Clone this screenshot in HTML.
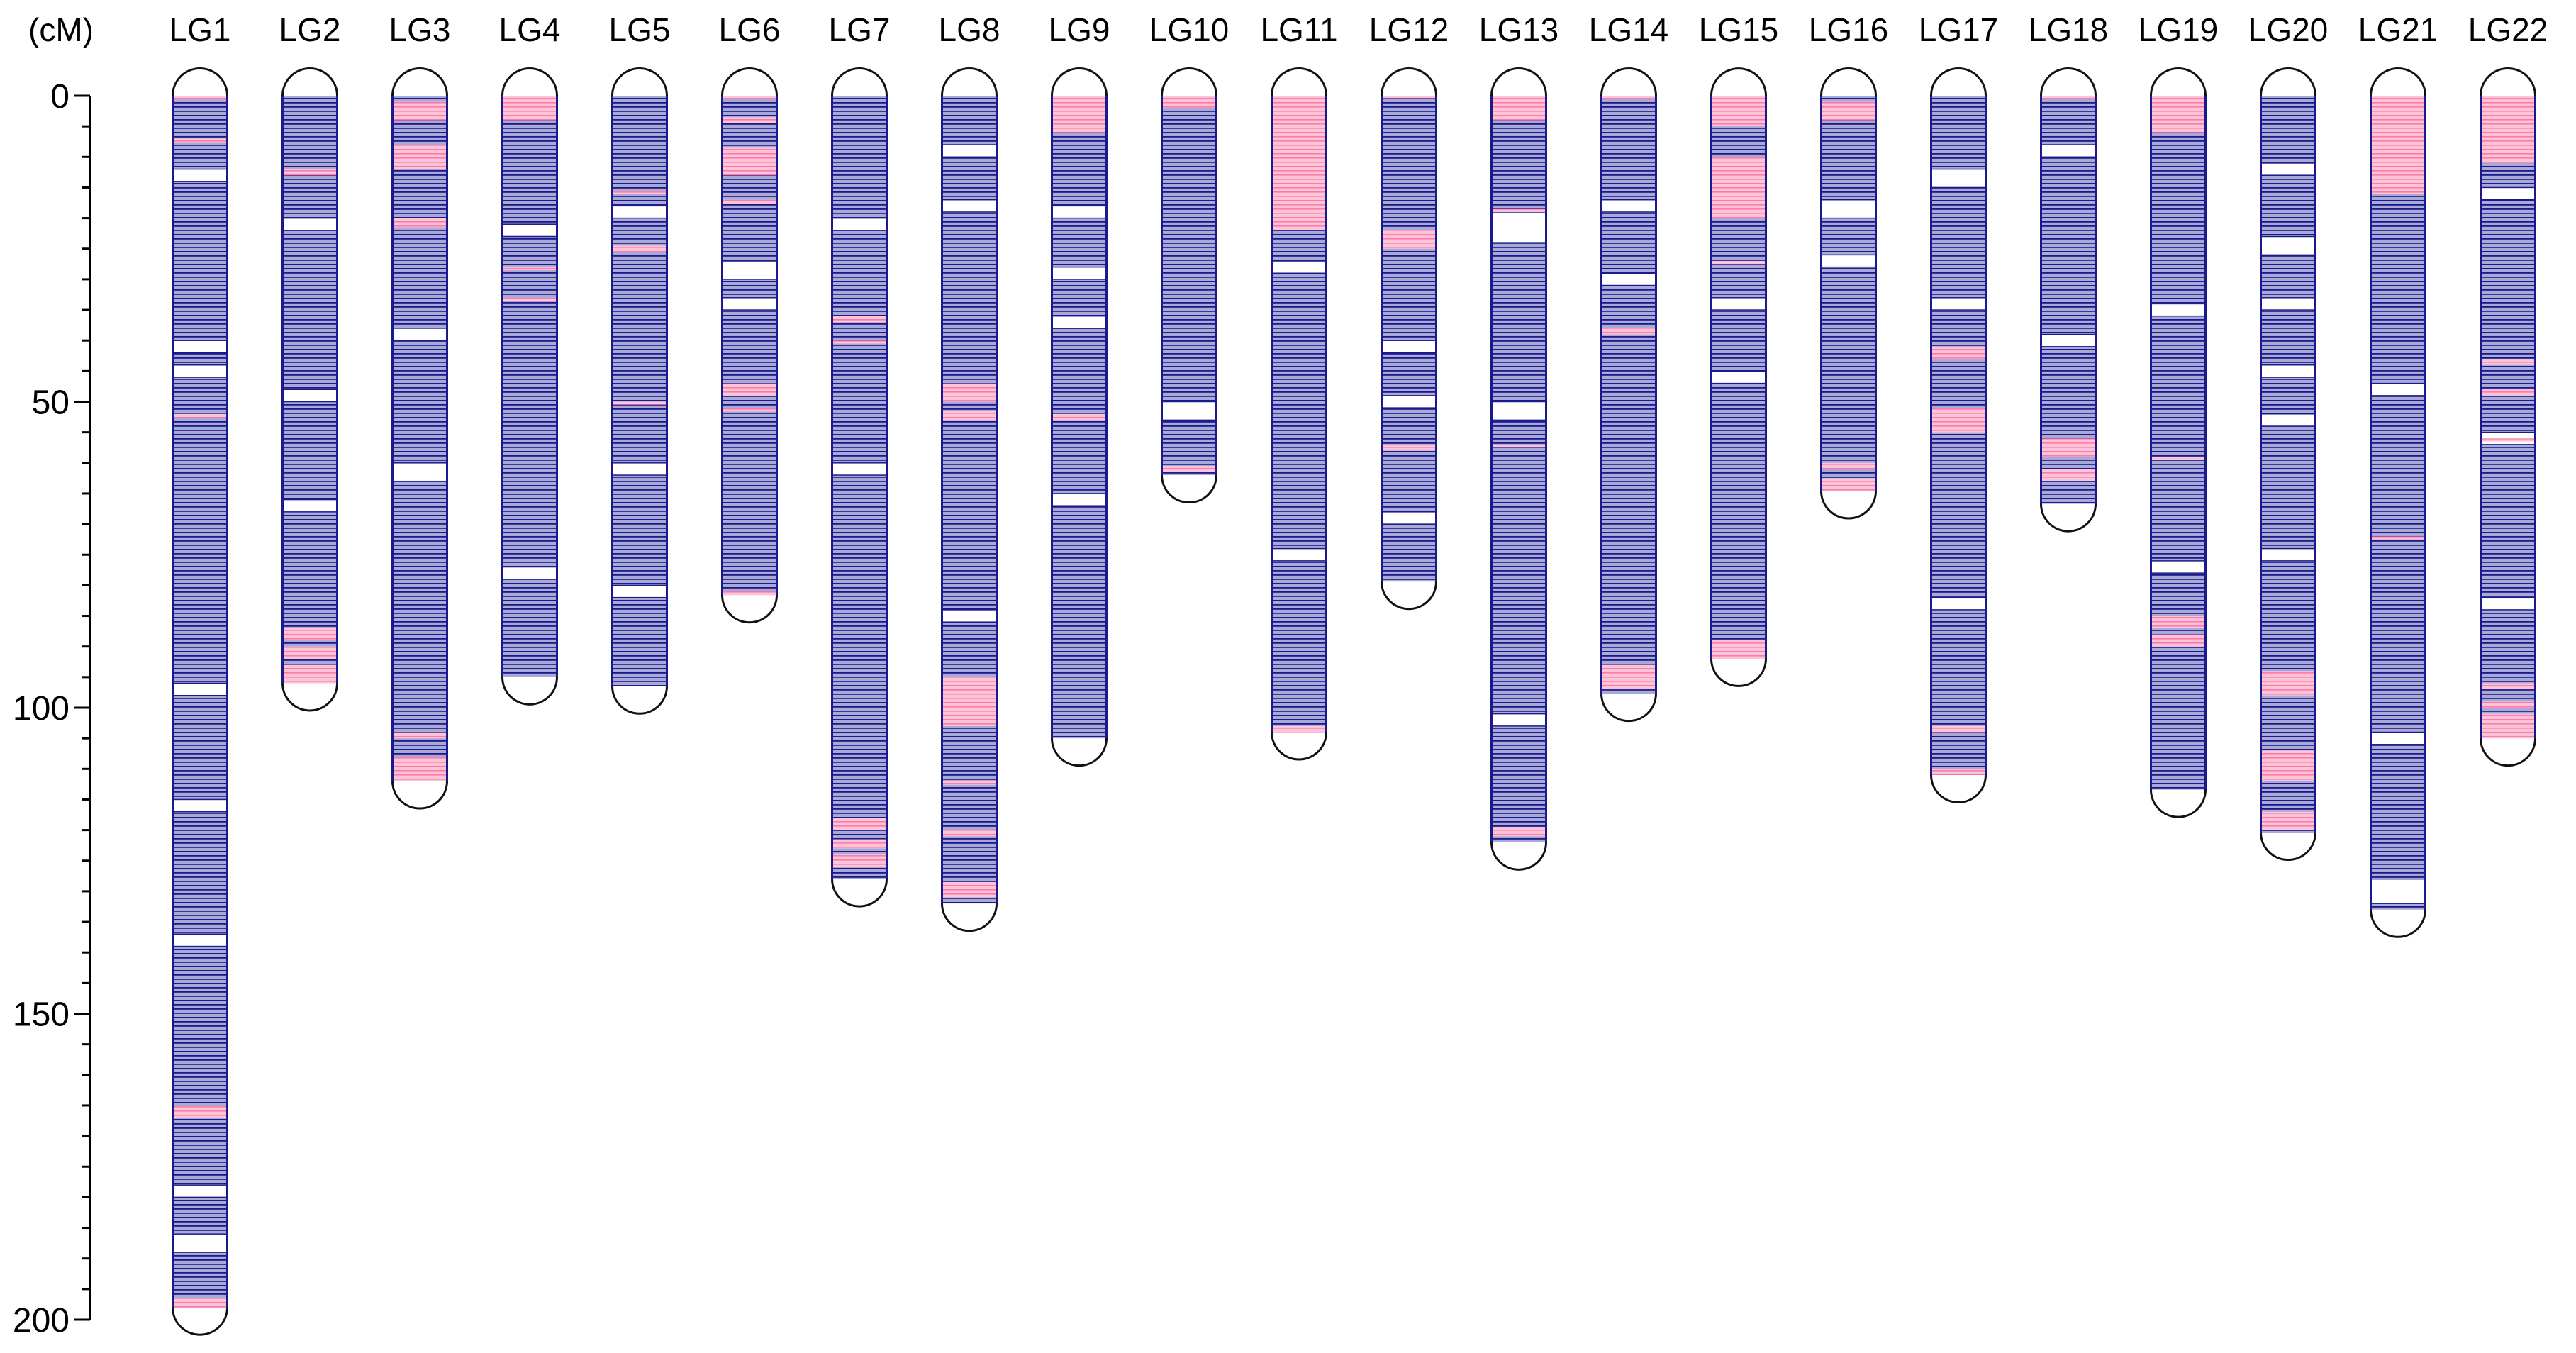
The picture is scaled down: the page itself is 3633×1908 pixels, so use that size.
<!DOCTYPE html>
<html><head><meta charset="utf-8"><style>
html,body{margin:0;padding:0;background:#fff;}
svg{display:block;}
text{font-family:"Liberation Sans",Arial,sans-serif;fill:#000;}
</style></head><body>
<svg id="chart" width="3633" height="1908" viewBox="0 0 3633 1908" xmlns="http://www.w3.org/2000/svg">
<defs>
<pattern id="stripes" patternUnits="userSpaceOnUse" width="80" height="6">
<rect width="80" height="6" fill="#a9a9d8"/>
<rect width="80" height="1.8" fill="#1a1a8c"/>
</pattern>
<pattern id="pinkstripes" patternUnits="userSpaceOnUse" width="80" height="6">
<rect width="80" height="6" fill="#fbc4d8"/>
<rect width="80" height="1.6" fill="#ff7aa8"/>
</pattern>
</defs>
<g id="axis"></g>
<g id="chroms"></g>
</svg>
<script>
const groups = ["LG1","LG2","LG3","LG4","LG5","LG6","LG7","LG8","LG9","LG10","LG11","LG12","LG13","LG14","LG15","LG16","LG17","LG18","LG19","LG20","LG21","LG22"];
const lengths = [198,96,112,95,96.5,81.6,128,132,105,62,104,79.4,122,97.7,92,64.6,111,66.7,113.4,120.4,133,105];
const pinkRegions = [
[0,0,0.6],[0,7,7.6],[0,52,52.6],[0,165,167],[0,196.5,198],
[1,12,13],[1,87,89],[1,90,92],[1,93,96],
[2,1,4],[2,8,12],[2,20,21.5],[2,104,105],[2,108,112],
[3,0,4],[3,28,28.5],[3,33,33.5],
[4,15.5,16],[4,24.5,25.5],[4,50,50.5],
[5,0,0.5],[5,3.5,4.5],[5,8.5,13],[5,17,17.6],[5,47,49],[5,51,51.6],[5,81,81.6],
[6,118,120],[6,121.5,123],[6,124,126],[6,36,37],[6,40,40.5],
[7,47,50],[7,51.5,53],[7,95,103],[7,112,112.6],[7,120,121],[7,128.5,131],
[8,0,6],[8,52,53],
[9,0,2],[9,60.5,61.5],
[10,0,22],[10,103,104],
[11,0,0.4],[11,22,25],[11,57,58],
[12,0,4],[12,18.5,19],[12,57,57.5],[12,119.5,121],
[13,0,0.5],[13,38,39],[13,93,97],
[14,0,5],[14,10,20],[14,27,27.5],[14,89,92],
[15,1,4],[15,60,61],[15,62.5,64.6],
[16,41,43],[16,51,55],[16,103,104],[16,110,111],
[17,0,0.5],[17,56,59],[17,61,63],
[18,0,6],[18,59,59.5],[18,85,87],[18,88,90],
[19,94,98],[19,107,112],[19,117,120],
[20,0,16],[20,72,72.5],
[21,0,11],[21,43,44],[21,48,49],[21,56,56.5],[21,96,97],[21,99,100],[21,101,105]
];
const gaps = [
[0,12,14],[0,40,42],[0,44,46],[0,96,98],[0,115,117],[0,137,139],[0,178,180],[0,186,189],
[1,20,22],[1,48,50],[1,66,68],
[2,60,63],[2,38,40],
[3,21,23],[3,77,79],
[4,18,20],[4,60,62],[4,80,82],
[5,27,30],[5,33,35],
[6,20,22],[6,60,62],
[7,8,10],[7,17,19],[7,84,86],
[8,18,20],[8,28,30],[8,36,38],[8,65,67],
[9,50,53],
[10,27,29],[10,74,76],
[11,40,42],[11,49,51],[11,68,70],
[12,19,24],[12,50,53],[12,101,103],
[13,17,19],[13,29,31],
[14,33,35],[14,45,47],
[15,17,20],[15,26,28],
[16,12,15],[16,33,35],[16,82,84],
[17,8,10],[17,39,41],
[18,34,36],[18,76,78],
[19,11,13],[19,23,26],[19,33,35],[19,44,46],[19,52,54],[19,74,76],
[20,47,49],[20,104,106],[20,128,132],
[21,15,17],[21,55,57],[21,82,84]
];
const tickValues = [0,50,100,150,200];

const X0 = 282, DX = 155, HW = 38.5, Y0 = 135, YS = 8.63;
function xPos(i){ return X0 + DX*i; }
function yPos(cm){ return Y0 + YS*cm; }
const NS = "http://www.w3.org/2000/svg";
function mk(tag, attrs, parent){
  const e = document.createElementNS(NS, tag);
  for (const k in attrs) e.setAttribute(k, attrs[k]);
  parent.appendChild(e);
  return e;
}

// axis
const ax = document.getElementById('axis');
const axLine = mk('line',{x1:127,y1:yPos(0),x2:127,y2:yPos(200),stroke:'#000','stroke-width':3},ax);


for (let v = 0; v <= 200; v += 5){
  const major = v % 50 === 0;
  const t = mk('line',{x1:major?105:115,y1:yPos(v),x2:127,y2:yPos(v),stroke:'#000','stroke-width':3},ax);
  
  
}
tickValues.forEach(v=>{
  const t = mk('text',{x:98,y:yPos(v)+17,'text-anchor':'end','font-size':48},ax);
  t.textContent = v;
  
  
});
const unit = mk('text',{x:86,y:58,'text-anchor':'middle','font-size':46},ax);
unit.textContent = '(cM)';



// chromosomes
const cg = document.getElementById('chroms');
groups.forEach((name,i)=>{
  const g = mk('g',{},cg);
  
  
  const cx = xPos(i), top = yPos(0), bot = yPos(lengths[i]);
  const lab = mk('text',{x:cx,y:58,'text-anchor':'middle','font-size':46},g);
  lab.textContent = name;
  
  
  const body = mk('rect',{x:cx-HW,y:top,width:2*HW,height:bot-top,fill:'url(#stripes)'},g);
  
  
  gaps.filter(r=>r[0]===i).forEach(r=>{
    const w = mk('rect',{x:cx-HW,y:yPos(r[1]),width:2*HW,height:yPos(r[2])-yPos(r[1]),fill:'#fff',stroke:'#1a1a8c','stroke-width':1.5},g);
    
    
  });
  pinkRegions.filter(r=>r[0]===i).forEach(r=>{
    const p = mk('rect',{x:cx-HW,y:yPos(r[1]),width:2*HW,height:Math.max(3,yPos(r[2])-yPos(r[1])),fill:'url(#pinkstripes)'},g);
    
    
  });
  const outline = mk('path',{d:`M${cx-HW},${top} L${cx-HW},${bot} A${HW},${HW} 0 0 0 ${cx+HW},${bot} L${cx+HW},${top} A${HW},${HW} 0 0 0 ${cx-HW},${top} Z`,fill:'none',stroke:'#111','stroke-width':3},g);
  
  
  const sides = mk('path',{d:`M${cx-HW},${top} L${cx-HW},${bot} M${cx+HW},${top} L${cx+HW},${bot}`,stroke:'#1a1a8c','stroke-width':3},g);
  
  
});
</script>
</body></html>
